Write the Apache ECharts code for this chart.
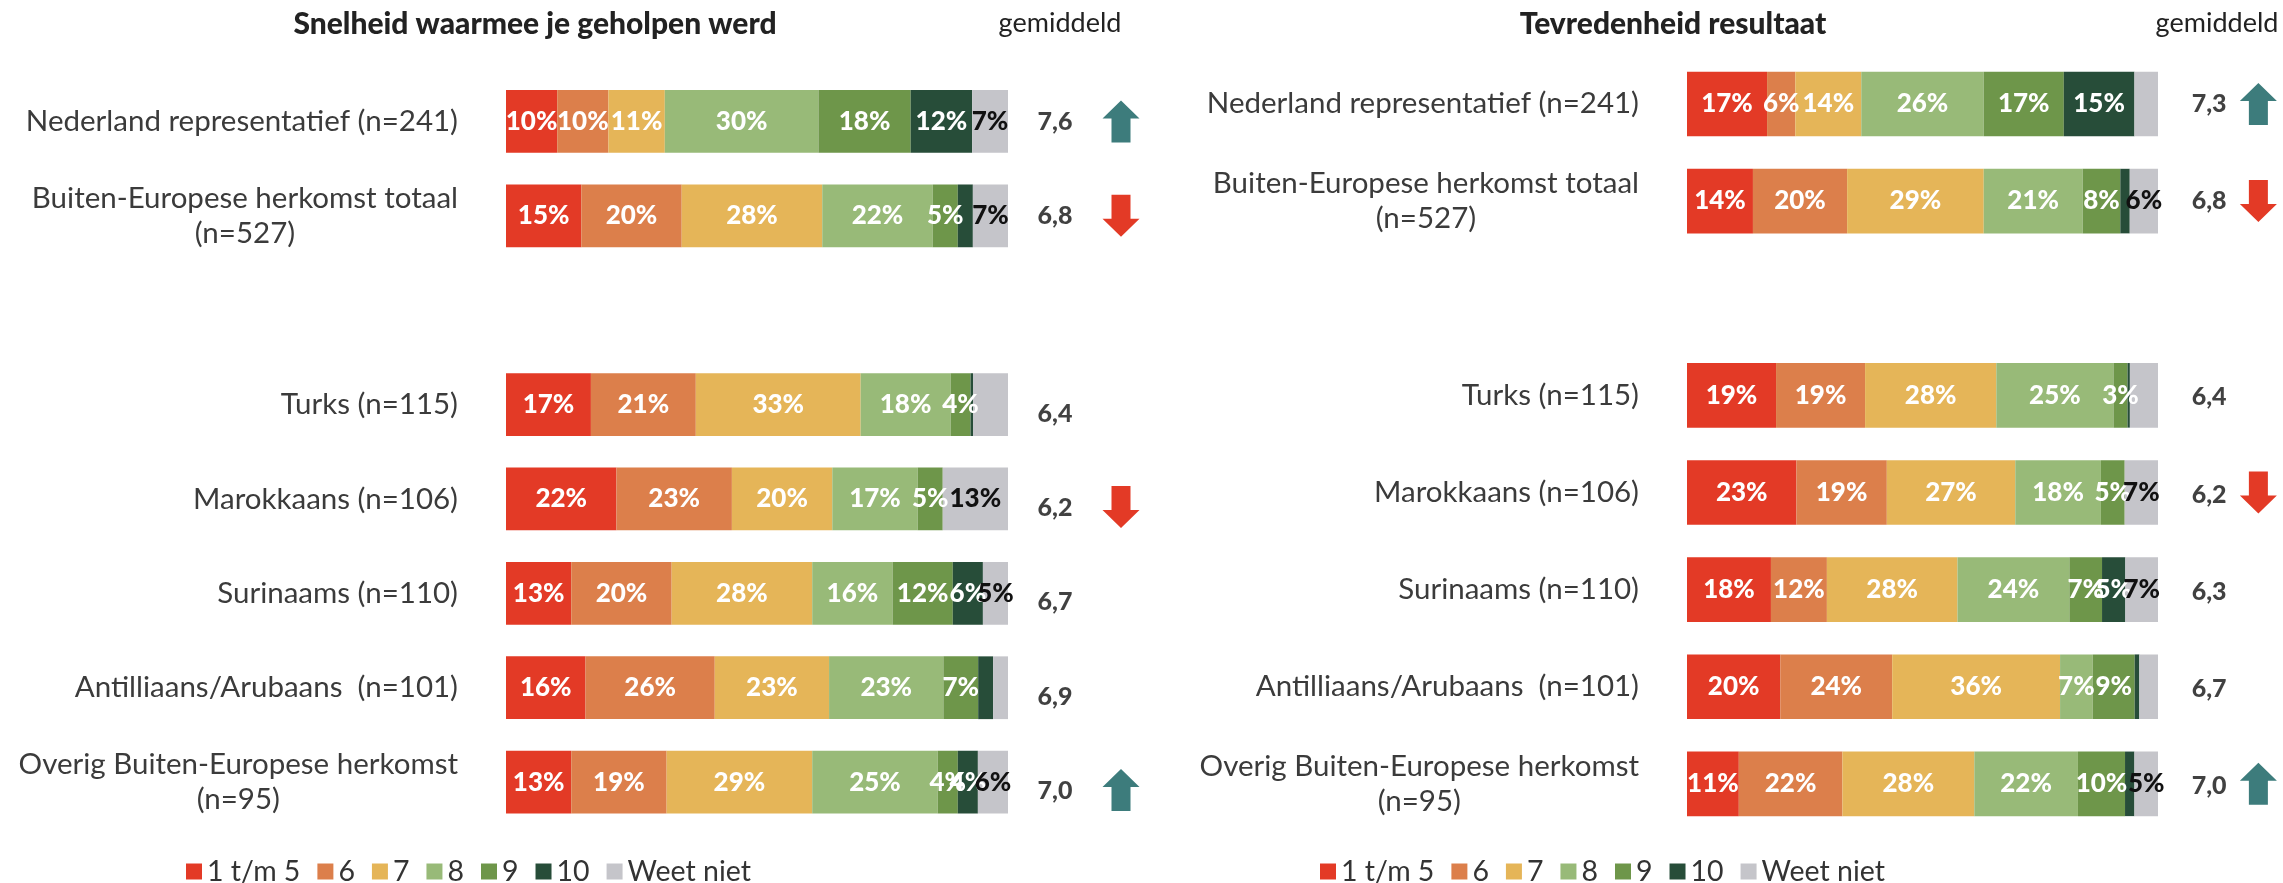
<!DOCTYPE html>
<html>
<head>
<meta charset="utf-8">
<script src="https://cdn.jsdelivr.net/npm/echarts@6/dist/echarts.min.js"></script>
<style>
  html, body { margin: 0; padding: 0; background: #ffffff; }
  #chart { width: 2283px; height: 883px; }
</style>
</head>
<body>
<div id="chart"></div>
<script>
// Rows (the empty string is the blank slot between the totals and the groups)
const groepen = [
  'Nederland representatief (n=241)',
  'Buiten-Europese herkomst totaal\n(n=527)',
  '',
  'Turks (n=115)',
  'Marokkaans (n=106)',
  'Surinaams (n=110)',
  'Antilliaans/Arubaans  (n=101)',
  'Overig Buiten-Europese herkomst\n(n=95)'
];

// Answer categories (stack order, left to right)
const antwoorden = ['1 t/m 5', '6', '7', '8', '9', '10', 'Weet niet'];
const kleuren = ['#E33A26', '#DC7F4B', '#E5B558', '#98BA78', '#6E964A', '#274D39', '#C5C5CA'];

// Snelheid waarmee je geholpen werd (%), one array per row
const snelheid = [
  [10, 10, 11, 30, 18, 12, 7],
  [15, 20, 28, 22, 5, 3, 7],
  null,
  [17, 21, 33, 18, 4, 0.5, 7],
  [22, 23, 20, 17, 5, 0, 13],
  [13, 20, 28, 16, 12, 6, 5],
  [16, 26, 23, 23, 7, 3, 3],
  [13, 19, 29, 25, 4, 4, 6]
];
const snelheidGem = [7.6, 6.8, null, 6.4, 6.2, 6.7, 6.9, 7.0];
const snelheidTrend = ['up', 'down', null, null, 'down', null, null, 'up'];
// segments printed without a percentage
const snelheidZonderLabel = [[], [5], [], [5, 6], [], [], [5, 6], []];

// Tevredenheid resultaat (%), one array per row
const tevredenheid = [
  [17, 6, 14, 26, 17, 15, 5],
  [14, 20, 29, 21, 8, 2, 6],
  null,
  [19, 19, 28, 25, 3, 0.5, 6],
  [23, 19, 27, 18, 5, 0, 7],
  [18, 12, 28, 24, 7, 5, 7],
  [20, 24, 36, 7, 9, 1, 4],
  [11, 22, 28, 22, 10, 2, 5]
];
const tevredenheidGem = [7.3, 6.8, null, 6.4, 6.2, 6.3, 6.7, 7.0];
const tevredenheidTrend = ['up', 'down', null, null, 'down', null, null, 'up'];
const tevredenheidZonderLabel = [[6], [5], [], [5, 6], [], [], [5, 6], [5]];

const FONT = 'Lato, "Noto Sans", sans-serif';
const PIJL = 'path://M18.5,0 L37,18 L28,18 L28,42 L9,42 L9,18 L0,18 Z';
const PIJL_KLEUR = { up: '#3D7C7C', down: '#E33A26' };

const panelen = [
  {
    titel: 'Snelheid waarmee je geholpen werd', titelX: 535, gemX: 1060,
    waarden: snelheid, gem: snelheidGem, trend: snelheidTrend, zonderLabel: snelheidZonderLabel,
    bar: { left: 506, width: 502, top: 74.3, height: 755 },
    kolom: { left: 1022, width: 132 },
    legendLeft: 186, onderGemOffset: 9, onderPijlOffset: 8
  },
  {
    titel: 'Tevredenheid resultaat', titelX: 1673, gemX: 2217,
    waarden: tevredenheid, gem: tevredenheidGem, trend: tevredenheidTrend, zonderLabel: tevredenheidZonderLabel,
    bar: { left: 1687, width: 471, top: 55.4, height: 777 },
    kolom: { left: 2184.5, width: 110 },
    legendLeft: 1320, onderGemOffset: 2, onderPijlOffset: 0
  }
];

const grid = [], xAxis = [], yAxis = [], series = [], title = [], legend = [];

function rijLabel(v) {
  return v.split('\n').map(l => '{c|' + l + '}').join('\n');
}

panelen.forEach((p, k) => {
  const gb = 2 * k, gk = 2 * k + 1;
  grid.push(Object.assign({ containLabel: false }, p.bar));
  grid.push(Object.assign({ top: p.bar.top, height: p.bar.height }, p.kolom));

  xAxis.push({ type: 'value', gridIndex: gb, min: 0, max: 100, show: false });
  yAxis.push({
    type: 'category', gridIndex: gb, data: groepen, inverse: true,
    axisLine: { show: false }, axisTick: { show: false }, splitLine: { show: false },
    axisLabel: {
      interval: 0, margin: 48, align: 'right', formatter: rijLabel,
      rich: { c: { align: 'center', fontFamily: FONT, fontSize: 29.5, lineHeight: 35, color: '#3b3b3b' } }
    }
  });
  xAxis.push({ type: 'category', gridIndex: gk, data: ['gem', 'pijl'], show: false });
  yAxis.push({ type: 'category', gridIndex: gk, data: groepen, inverse: true, show: false });

  // stacked bars, each row scaled to its own total
  antwoorden.forEach((naam, j) => {
    series.push({
      name: naam, type: 'bar', stack: 'paneel' + k,
      xAxisIndex: gb, yAxisIndex: gb,
      barCategoryGap: '33.5%',
      itemStyle: { color: kleuren[j] },
      label: {
        show: true, position: 'inside',
        color: j === 6 ? '#111111' : '#ffffff',
        fontFamily: FONT, fontWeight: 900, fontSize: 26,
        formatter: prm => prm.data.raw + '%'
      },
      emphasis: { disabled: true },
      data: p.waarden.map((rij, i) => {
        if (!rij) return null;
        const totaal = rij.reduce((a, b) => a + b, 0);
        const item = { value: rij[j] / totaal * 100, raw: rij[j] };
        if (rij[j] === 0 || p.zonderLabel[i].includes(j)) item.label = { show: false };
        return item;
      })
    });
  });

  // average score column
  series.push({
    name: 'gemiddeld', type: 'scatter', xAxisIndex: gk, yAxisIndex: gk,
    symbolSize: 1, itemStyle: { color: 'rgba(0,0,0,0)' }, silent: true,
    label: {
      show: true, position: 'inside', fontFamily: FONT, fontWeight: 900, fontSize: 25, color: '#111111',
      formatter: prm => prm.data.value[2].toFixed(1).replace('.', ',')
    },
    data: p.gem.map((g, i) => g == null ? null : {
      value: [0, i, g], label: { offset: [0, i > 2 ? p.onderGemOffset : 0] }
    }).filter(d => d)
  });

  // trend arrows
  series.push({
    name: 'trend', type: 'scatter', xAxisIndex: gk, yAxisIndex: gk,
    symbol: PIJL, symbolSize: [37, 42], silent: true,
    itemStyle: { opacity: 1 },
    data: p.trend.map((t, i) => t == null ? null : {
      value: [1, i],
      symbolRotate: t === 'down' ? 180 : 0,
      symbolOffset: [0, i > 2 ? p.onderPijlOffset : 0],
      itemStyle: { color: PIJL_KLEUR[t], opacity: 1 }
    }).filter(d => d)
  });

  title.push({
    text: p.titel, left: p.titelX, top: 9, textAlign: 'center', padding: 0,
    textStyle: { fontFamily: FONT, fontSize: 30, fontWeight: 900, color: '#222222' }
  });
  title.push({
    text: 'gemiddeld', left: p.gemX, top: 10, textAlign: 'center', padding: 0,
    textStyle: { fontFamily: FONT, fontSize: 27, fontWeight: 'normal', color: '#222222' }
  });

  legend.push({
    data: antwoorden, left: p.legendLeft, top: 857, padding: 0,
    icon: 'rect', itemWidth: 16, itemHeight: 16, itemGap: 17, selectedMode: false,
    textStyle: { fontFamily: FONT, fontSize: 28.5, color: '#333333' }
  });
});

const chart = echarts.init(document.getElementById('chart'), null, { renderer: 'canvas' });
chart.setOption({
  animation: false,
  backgroundColor: '#ffffff',
  title, legend, grid, xAxis, yAxis, series
});
</script>
</body>
</html>
